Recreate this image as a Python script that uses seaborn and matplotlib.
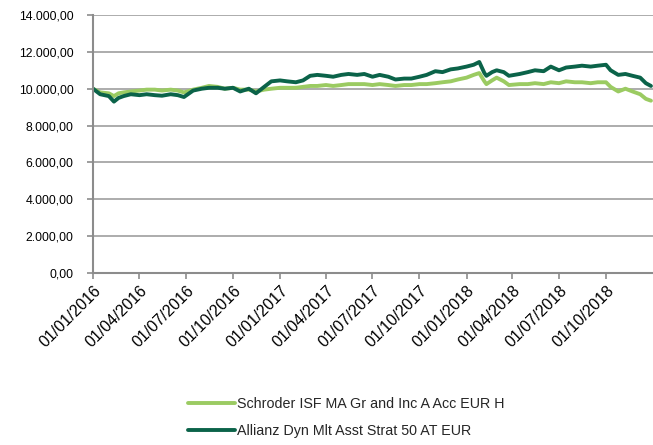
import pandas as pd
import numpy as np
import matplotlib.pyplot as plt
import matplotlib.dates as mdates
from matplotlib.ticker import FuncFormatter
import seaborn as sns

# values (semi-monthly, plus a few turning points)
dates = ['2016-01-01', '2016-01-15', '2016-02-01', '2016-02-11', '2016-02-20', '2016-03-01',
         '2016-03-15', '2016-04-01', '2016-04-15', '2016-05-01', '2016-05-15', '2016-06-01',
         '2016-06-15', '2016-06-27', '2016-07-15', '2016-08-01', '2016-08-15', '2016-09-01',
         '2016-09-15', '2016-10-01', '2016-10-15', '2016-11-01', '2016-11-15', '2016-12-01',
         '2016-12-15', '2017-01-01', '2017-01-15', '2017-02-01', '2017-02-15', '2017-03-01',
         '2017-03-15', '2017-04-01', '2017-04-15', '2017-05-01', '2017-05-15', '2017-06-01',
         '2017-06-15', '2017-07-01', '2017-07-15', '2017-08-01', '2017-08-15', '2017-09-01',
         '2017-09-15', '2017-10-01', '2017-10-15', '2017-11-01', '2017-11-15', '2017-12-01',
         '2017-12-15', '2018-01-01', '2018-01-15', '2018-01-26', '2018-02-05', '2018-02-09',
         '2018-02-20', '2018-03-01', '2018-03-15', '2018-03-25', '2018-04-15', '2018-05-01',
         '2018-05-15', '2018-06-01', '2018-06-15', '2018-07-01', '2018-07-15', '2018-08-01',
         '2018-08-15', '2018-09-01', '2018-09-15', '2018-10-01', '2018-10-10', '2018-10-25',
         '2018-11-08', '2018-11-22', '2018-12-07', '2018-12-18', '2018-12-28']

schroder = [10000, 9800, 9750, 9600, 9750, 9800,
            9850, 9900, 9950, 9950, 9900, 9950,
            9900, 9800, 9950, 10050, 10150, 10100,
            10000, 10050, 9950, 9950, 9850, 9950,
            10000, 10050, 10050, 10050, 10100, 10150,
            10150, 10200, 10150, 10200, 10250, 10250,
            10250, 10200, 10250, 10200, 10150, 10200,
            10200, 10250, 10250, 10300, 10350, 10400,
            10500, 10600, 10750, 10850, 10400, 10250,
            10450, 10600, 10400, 10200, 10250, 10250,
            10300, 10250, 10350, 10300, 10400, 10350,
            10350, 10300, 10350, 10350, 10100, 9850,
            10000, 9850, 9700, 9450, 9350]

allianz = [10000, 9700, 9600, 9300, 9500, 9600,
           9700, 9650, 9700, 9650, 9620, 9700,
           9650, 9550, 9900, 10000, 10050, 10050,
           10000, 10050, 9850, 10000, 9750, 10100,
           10400, 10450, 10400, 10350, 10450, 10700,
           10750, 10700, 10650, 10750, 10800, 10750,
           10800, 10650, 10750, 10650, 10500, 10550,
           10550, 10650, 10750, 10950, 10900, 11050,
           11100, 11200, 11300, 11450, 10850, 10700,
           10900, 11000, 10900, 10700, 10800, 10900,
           11000, 10950, 11200, 11000, 11150, 11200,
           11250, 11200, 11250, 11300, 11000, 10750,
           10800, 10700, 10600, 10300, 10150]

names = ['Schroder ISF MA Gr and Inc A Acc EUR H', 'Allianz Dyn Mlt Asst Strat 50 AT EUR']
colors = ['#9BCB62', '#0B6349']
yticks = [0, 2000, 4000, 6000, 8000, 10000, 12000, 14000]

df = pd.DataFrame({'date': pd.to_datetime(dates), names[0]: schroder, names[1]: allianz})
df = df.melt(id_vars='date', var_name='fund', value_name='value')

sns.set_style('white')
plt.rcParams['font.family'] = ['Liberation Sans', 'DejaVu Sans']

fig = plt.figure(figsize=(6.53, 4.45), dpi=100)
ax = fig.add_axes([93/653, 1 - 273/445, 1 - 93/653, (273 - 15)/445])

sns.lineplot(data=df, x='date', y='value', hue='fund', hue_order=names,
             palette=colors, linewidth=2.8, ax=ax, legend=False)

ax.set_xlim(pd.Timestamp('2016-01-01'), pd.Timestamp('2019-01-01'))
ax.set_ylim(0, 14000)
ax.set_yticks(yticks)
ax.yaxis.set_major_formatter(FuncFormatter(
    lambda v, p: f'{v:,.2f}'.replace(',', 'X').replace('.', ',').replace('X', '.')))
ax.set_xticks(pd.date_range('2016-01-01', '2018-10-01', freq='QS'))
ax.xaxis.set_major_formatter(mdates.DateFormatter('%d/%m/%Y'))
ax.set_xlabel('')
ax.set_ylabel('')

ax.grid(axis='y', color='#A6A6A6', linewidth=1.3)
ax.set_axisbelow(True)
for s in ['top', 'right']:
    ax.spines[s].set_visible(False)
for s in ['left', 'bottom']:
    ax.spines[s].set_color('#8C8C8C')
    ax.spines[s].set_linewidth(1.5)
ax.tick_params(axis='both', colors='#8C8C8C', length=4, width=1.2,
               labelcolor='black', direction='out', bottom=True, left=True)
ax.tick_params(axis='y', pad=10, labelsize=8.8)
ax.tick_params(axis='x', pad=3, labelsize=11.5)
for lbl in ax.get_xticklabels():
    lbl.set_rotation(45)
    lbl.set_ha('right')
    lbl.set_va('top')
    lbl.set_rotation_mode('anchor')

handles = [plt.Line2D([], [], color=c, linewidth=2.8) for c in colors]
fig.legend(handles, names, loc='upper left', bbox_to_anchor=(188/653, 1 - 397/445),
           frameon=False, fontsize=10.3, handlelength=3.3, handletextpad=0.15,
           labelspacing=0.9, borderpad=0, borderaxespad=0)

plt.savefig('out.png', dpi=100)
